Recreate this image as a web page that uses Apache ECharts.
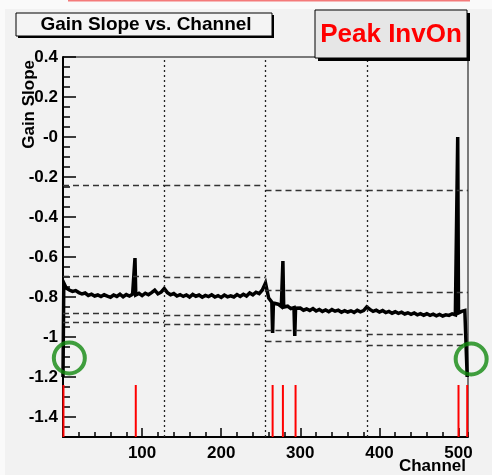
<!DOCTYPE html>
<html>
<head>
<meta charset="utf-8">
<script src="https://cdn.jsdelivr.net/npm/echarts@6/dist/echarts.min.js"></script>
<style>
  html, body { margin: 0; padding: 0; background: #fafafa; }
  #chart { width: 492px; height: 475px; }
</style>
</head>
<body>
<div id="chart"></div>
<script>
// gain slope, sampled every 4 channels (ch 0 .. 508)
const sampleStep = 4
const slopeValues = [
  // 0 - 124
  -1.2, -0.755, -0.765, -0.772, -0.768, -0.778, -0.785, -0.78, -0.792, -0.786, -0.795, -0.79,
  -0.798, -0.789, -0.796, -0.801, -0.79, -0.797, -0.786, -0.799, -0.788, -0.795, -0.786, -0.79,
  -0.782, -0.793, -0.781, -0.789, -0.778, -0.766, -0.784, -0.776,
  // 128 - 252
  -0.758, -0.778, -0.789, -0.783, -0.795, -0.788, -0.797, -0.79, -0.8, -0.787, -0.796, -0.79,
  -0.801, -0.792, -0.798, -0.789, -0.8, -0.793, -0.802, -0.79, -0.799, -0.794, -0.8, -0.788,
  -0.797, -0.786, -0.795, -0.78, -0.789, -0.776, -0.783, -0.765,
  // 256 - 380
  -0.73, -0.805, -0.826, -0.838, -0.836, -0.848, -0.85, -0.846, -0.858, -0.853, -0.862, -0.855,
  -0.866, -0.86, -0.868, -0.858, -0.87, -0.862, -0.872, -0.865, -0.874, -0.863, -0.871, -0.866,
  -0.876, -0.868, -0.875, -0.869, -0.877, -0.866, -0.874, -0.868,
  // 384 - 508
  -0.85, -0.862, -0.872, -0.866, -0.875, -0.868, -0.878, -0.872, -0.881, -0.874, -0.882, -0.876,
  -0.885, -0.879, -0.887, -0.88, -0.889, -0.883, -0.891, -0.884, -0.892, -0.886, -0.894, -0.887,
  -0.895, -0.889, -0.892, -0.884, -0.889, -0.88, -0.872, -0.868
]
// single channels off the sampling grid (spikes and their neighbours)
const extraChannels = [1, 90, 91, 93, 265, 266, 277, 278, 279, 293, 294, 498, 499, 501, 511]
const extraValues = [-0.73, -0.792, -0.605, -0.788, -0.98, -0.83, -0.846, -0.62, -0.85, -0.995, -0.856, -0.887, 0.0, -0.878, -1.2]

// channels flagged bad (red markers, drawn at bin centre)
const badChannels = [0.6, 92, 265, 278, 294, 500, 511]
const badMarkerRange = [-1.5, -1.24]

// limit lines per 128-channel block
const blockStart = [0, 128, 256, 384]
const blockEnd = [128, 256, 384, 512]
const limitTop = [-0.24, -0.24, -0.265, -0.265]
const limitHigh = [-0.695, -0.7, -0.765, -0.777]
const limitLow = [-0.882, -0.89, -0.968, -0.988]
const limitLower = [-0.928, -0.938, -1.02, -1.04]
const blockBorders = [128, 256, 384]

// axes
const xMajorTicks = [0, 100, 200, 300, 400, 500]
const xTickLabels = ['100', '200', '300', '400', '500']
const xLabelValues = [100, 200, 300, 400, 500]
const yMajorTicks = [-1.4, -1.2, -1, -0.8, -0.6, -0.4, -0.2, 0, 0.2, 0.4]
const yTickLabels = ['-1.4', '-1.2', '-1', '-0.8', '-0.6', '-0.4', '-0.2', '-0', '0.2', '0.4']

// circled channels
const circleChannels = [8, 516]
const circleValues = [-1.105, -1.11]

const FONT = 'Liberation Sans, Arial, Helvetica, sans-serif'

let points = slopeValues.map((v, i) => [i * sampleStep, v])
extraChannels.forEach((c, i) => points.push([c, extraValues[i]]))
points.sort((a, b) => a[0] - b[0])

let limitLines = []
;[limitTop, limitHigh, limitLow, limitLower].forEach(level => {
  blockStart.forEach((s, i) => {
    limitLines.push([{ coord: [s, level[i]] }, { coord: [blockEnd[i], level[i]] }])
  })
})

let charts = echarts.init(document.getElementById('chart'))
charts.setOption({
  backgroundColor: '#f2f2f2',
  animation: false,
  grid: {
    left: 63,
    right: 24,
    top: 57,
    bottom: 38,
    show: true,
    borderColor: '#000',
    borderWidth: 1,
    backgroundColor: 'transparent'
  },
  xAxis: [{
    type: 'value',
    min: 0,
    max: 512,
    interval: 20,
    axisLine: { onZero: false, lineStyle: { color: '#000', width: 2 } },
    // minor ticks
    axisTick: { inside: true, length: 5, lineStyle: { color: '#000', width: 1.5 } },
    axisLabel: { show: false },
    splitLine: { show: false }
  }, {
    type: 'value',
    position: 'bottom',
    min: 0,
    max: 512,
    axisLine: { show: false, onZero: false },
    axisTick: {
      inside: true,
      length: 9,
      customValues: xMajorTicks,
      lineStyle: { color: '#000', width: 1.5 }
    },
    axisLabel: {
      customValues: xLabelValues,
      formatter: v => xTickLabels[xLabelValues.indexOf(v)],
      margin: 8,
      color: '#000',
      fontFamily: FONT,
      fontWeight: 'bold',
      fontSize: 17
    },
    splitLine: { show: false }
  }],
  yAxis: [{
    type: 'value',
    min: -1.5,
    max: 0.4,
    interval: 0.05,
    axisLine: { onZero: false, lineStyle: { color: '#000', width: 2 } },
    axisTick: { inside: true, length: 7, lineStyle: { color: '#000', width: 1.5 } },
    axisLabel: { show: false },
    splitLine: { show: false }
  }, {
    type: 'value',
    position: 'left',
    min: -1.5,
    max: 0.4,
    axisLine: { show: false, onZero: false },
    axisTick: {
      inside: true,
      length: 13,
      customValues: yMajorTicks,
      lineStyle: { color: '#000', width: 1.5 }
    },
    axisLabel: {
      customValues: yMajorTicks,
      formatter: v => {
        let i = yMajorTicks.findIndex(t => Math.abs(t - v) < 1e-6)
        return i < 0 ? '' : yTickLabels[i]
      },
      margin: 5,
      color: '#000',
      fontFamily: FONT,
      fontWeight: 'bold',
      fontSize: 17
    },
    splitLine: { show: false }
  }],
  graphic: [
    { type: 'rect', shape: { x: 0, y: 0, width: 492, height: 9 }, style: { fill: '#fafafa' }, z: -1 },
    { type: 'rect', shape: { x: 0, y: 0, width: 5, height: 475 }, style: { fill: '#fafafa' }, z: -1 },
    { type: 'line', shape: { x1: 68, y1: 0.5, x2: 470, y2: 0.5 }, style: { stroke: '#f47a7a', lineWidth: 2 } },
    // title box
    { type: 'rect', shape: { x: 18, y: 15, width: 256, height: 23 }, style: { fill: '#000' }, z: 10 },
    { type: 'rect', shape: { x: 16, y: 13, width: 256, height: 23 }, style: { fill: '#f4f4f4', stroke: '#000', lineWidth: 1 }, z: 11 },
    {
      type: 'text', x: 146, y: 25, z: 12,
      style: { text: 'Gain Slope vs. Channel', fill: '#000', font: 'bold 19px ' + FONT, align: 'center', verticalAlign: 'middle' }
    },
    // peak box
    { type: 'rect', shape: { x: 318, y: 13, width: 152, height: 48 }, style: { fill: '#000' }, z: 10 },
    { type: 'rect', shape: { x: 315, y: 10, width: 152, height: 48 }, style: { fill: '#e6e6e6', stroke: '#000', lineWidth: 1 }, z: 11 },
    {
      type: 'text', x: 391, y: 35, z: 12,
      style: { text: 'Peak InvOn', fill: '#ff0000', font: 'bold 26px ' + FONT, align: 'center', verticalAlign: 'middle' }
    },
    // axis titles
    {
      type: 'text', x: 29, y: 60, rotation: Math.PI / 2,
      style: { text: 'Gain Slope', fill: '#000', font: 'bold 17px ' + FONT, align: 'right', verticalAlign: 'middle' }
    },
    {
      type: 'text', x: 466, y: 466,
      style: { text: 'Channel', fill: '#000', font: 'bold 17px ' + FONT, align: 'right', verticalAlign: 'middle' }
    }
  ],
  series: [{
    // block borders and limit lines
    type: 'line',
    data: [],
    z: 1,
    silent: true,
    markLine: {
      symbol: 'none',
      silent: true,
      label: { show: false },
      lineStyle: { color: '#333', type: [6, 4], width: 1.3 },
      data: limitLines.concat(blockBorders.map(b => ({
        xAxis: b,
        lineStyle: { color: '#222', type: [2, 3], width: 1.3 }
      })))
    }
  }, {
    name: 'Gain Slope',
    type: 'line',
    data: points,
    z: 3,
    clip: false,
    showSymbol: false,
    symbol: 'none',
    lineStyle: { color: '#000', width: 3.5, join: 'miter' }
  }, {
    // bad channel markers
    type: 'custom',
    data: badChannels.map(c => [c, badMarkerRange[0], badMarkerRange[1]]),
    zlevel: 1,
    z: 6,
    clip: false,
    silent: true,
    encode: { x: 0, y: [1, 2] },
    renderItem: (params, api) => {
      let p0 = api.coord([api.value(0), api.value(1)])
      let p1 = api.coord([api.value(0), api.value(2)])
      return {
        type: 'rect',
        shape: { x: p0[0] - 1, y: p1[1], width: 2, height: p0[1] - p1[1] },
        style: { fill: '#ff0000' }
      }
    }
  }, {
    type: 'scatter',
    data: circleChannels.map((c, i) => [c, circleValues[i]]),
    zlevel: 1,
    z: 5,
    clip: false,
    silent: true,
    symbol: 'circle',
    symbolSize: 31,
    itemStyle: { color: 'transparent', borderColor: '#11880f', borderWidth: 4 }
  }]
})
</script>
</body>
</html>
